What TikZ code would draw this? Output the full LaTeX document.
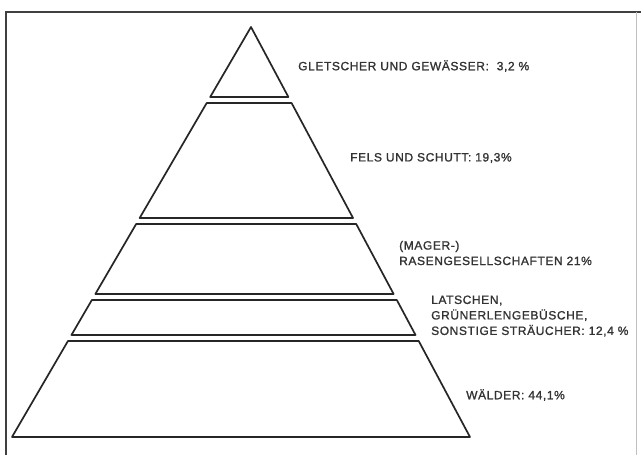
\documentclass[tikz,border=0pt]{standalone}
\usepackage{fontspec}
\setmainfont{Liberation Sans}
\usepackage{tikz}
\usetikzlibrary{calc}

\begin{document}
\begin{tikzpicture}[x=1pt, y=-1pt,
  layer/.style={line width=1.7pt, draw=black!85, line join=round},
  label/.style={right, inner sep=0pt, font=\fontsize{12}{15.5}\selectfont\addfontfeature{LetterSpace=5,FakeBold=1.2}, text=black!80, align=left}]
\useasboundingbox[fill=white] (0,0) rectangle (641,455);
% frame
\draw[line width=1.2pt, black!75] (6,455) -- (6,12) -- (641,12);
\draw[line width=0.6pt, black!25] (636,12) -- (636,455);

% pyramid
\coordinate (apex) at (251,27);
\coordinate (bl) at (12,437);
\coordinate (br) at (470,437);
\foreach \a/\b [count=\i] in {0/0.1707, 0.1854/0.4659, 0.4805/0.6512, 0.6659/0.7512, 0.7659/1} {
  \draw[layer] ($(apex)!\a!(bl)$) -- ($(apex)!\b!(bl)$) -- ($(apex)!\b!(br)$) -- ($(apex)!\a!(br)$) -- cycle;
}

% labels
\node[label] (gletscher) at (298,66) {GLETSCHER UND GEWÄSSER:\ \ 3,2 \%};
\node[label] (fels) at (350,158) {FELS UND SCHUTT: 19,3\%};
\node[label] (rasen) at (399,253) {(MAGER-)\\RASENGESELLSCHAFTEN 21\%};
\node[label] (latschen) at (431,316) {LATSCHEN,\\GRÜNERLENGEBÜSCHE,\\SONSTIGE STRÄUCHER: 12,4 \%};
\node[label] (waelder) at (466,395) {WÄLDER: 44,1\%};
\end{tikzpicture}
\end{document}
